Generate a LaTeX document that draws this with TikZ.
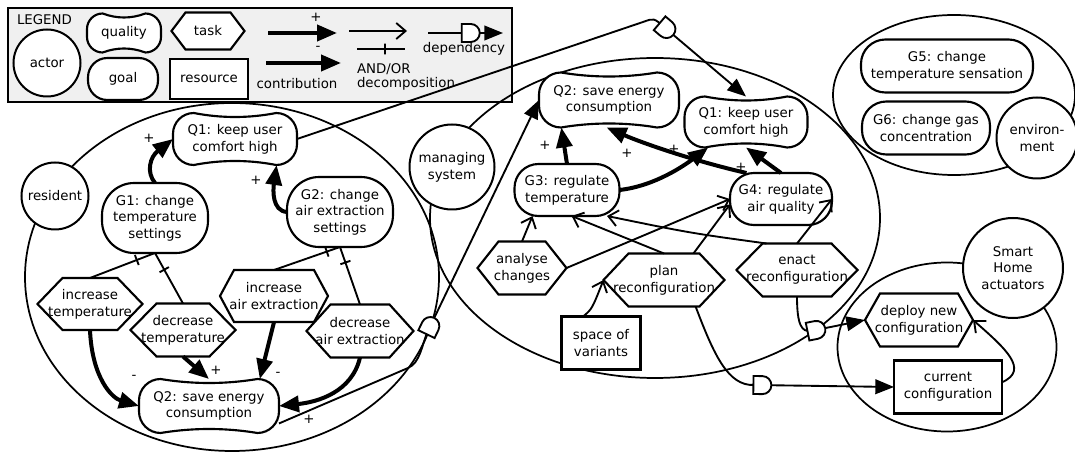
\documentclass[tikz,border=0pt]{standalone}
\usepackage{fontspec}
\setmainfont{DejaVu Sans}
\usetikzlibrary{arrows.meta,shapes.geometric,shapes.misc,positioning}
\newcommand{\pxunit}{0.75pt}

\makeatletter
\pgfkeys{/pgf/hexa tip/.initial=10pt}
% task: flat hexagon in the node box
\pgfdeclareshape{hexatask}{%
  \inheritsavedanchors[from=rectangle]%
  \inheritanchorborder[from=rectangle]%
  \inheritanchor[from=rectangle]{center}%
  \inheritanchor[from=rectangle]{north}%
  \inheritanchor[from=rectangle]{south}%
  \inheritanchor[from=rectangle]{east}%
  \inheritanchor[from=rectangle]{west}%
  \inheritanchor[from=rectangle]{north east}%
  \inheritanchor[from=rectangle]{north west}%
  \inheritanchor[from=rectangle]{south east}%
  \inheritanchor[from=rectangle]{south west}%
  \backgroundpath{%
    \southwest \edef\hxa{\the\pgf@x}\edef\hya{\the\pgf@y}%
    \northeast \edef\hxb{\the\pgf@x}\edef\hyb{\the\pgf@y}%
    \pgfmathsetmacro\hxc{\pgfkeysvalueof{/pgf/hexa tip}}\edef\hxc{\hxc pt}%
    \pgfmathsetmacro\hym{(\hya+\hyb)/2}\edef\hym{\hym pt}%
    \pgfpathmoveto{\pgfpoint{\hxa}{\hym}}%
    \pgfpathlineto{\pgfpoint{\hxa+\hxc}{\hyb}}%
    \pgfpathlineto{\pgfpoint{\hxb-\hxc}{\hyb}}%
    \pgfpathlineto{\pgfpoint{\hxb}{\hym}}%
    \pgfpathlineto{\pgfpoint{\hxb-\hxc}{\hya}}%
    \pgfpathlineto{\pgfpoint{\hxa+\hxc}{\hya}}%
    \pgfpathclose
  }%
}
% quality: box with hollow top and bottom
\pgfdeclareshape{softgoal}{%
  \inheritsavedanchors[from=rectangle]%
  \inheritanchorborder[from=rectangle]%
  \inheritanchor[from=rectangle]{center}%
  \inheritanchor[from=rectangle]{north}%
  \inheritanchor[from=rectangle]{south}%
  \inheritanchor[from=rectangle]{east}%
  \inheritanchor[from=rectangle]{west}%
  \inheritanchor[from=rectangle]{north east}%
  \inheritanchor[from=rectangle]{north west}%
  \inheritanchor[from=rectangle]{south east}%
  \inheritanchor[from=rectangle]{south west}%
  \backgroundpath{%
    \southwest \edef\qxa{\the\pgf@x}\edef\qya{\the\pgf@y}%
    \northeast \edef\qxb{\the\pgf@x}\edef\qyb{\the\pgf@y}%
    \pgfmathsetmacro\qr{0.4*(\qyb-\qya)}\edef\qr{\qr pt}%
    \pgfmathsetmacro\qk{0.552*\qr}\edef\qk{\qk pt}%
    \pgfmathsetmacro\ql{(\qxb-\qxa-2*\qr)/3}\edef\ql{\ql pt}%
    \def\qd{4pt}%
    \pgfpathmoveto{\pgfpoint{\qxa+\qr}{\qyb}}%
    \pgfpathcurveto{\pgfpoint{\qxa+\qr+\ql}{\qyb-\qd}}{\pgfpoint{\qxb-\qr-\ql}{\qyb-\qd}}{\pgfpoint{\qxb-\qr}{\qyb}}%
    \pgfpathcurveto{\pgfpoint{\qxb-\qr+\qk}{\qyb}}{\pgfpoint{\qxb}{\qyb-\qr+\qk}}{\pgfpoint{\qxb}{\qyb-\qr}}%
    \pgfpathlineto{\pgfpoint{\qxb}{\qya+\qr}}%
    \pgfpathcurveto{\pgfpoint{\qxb}{\qya+\qr-\qk}}{\pgfpoint{\qxb-\qr+\qk}{\qya}}{\pgfpoint{\qxb-\qr}{\qya}}%
    \pgfpathcurveto{\pgfpoint{\qxb-\qr-\ql}{\qya+\qd}}{\pgfpoint{\qxa+\qr+\ql}{\qya+\qd}}{\pgfpoint{\qxa+\qr}{\qya}}%
    \pgfpathcurveto{\pgfpoint{\qxa+\qr-\qk}{\qya}}{\pgfpoint{\qxa}{\qya+\qr-\qk}}{\pgfpoint{\qxa}{\qya+\qr}}%
    \pgfpathlineto{\pgfpoint{\qxa}{\qyb-\qr}}%
    \pgfpathcurveto{\pgfpoint{\qxa}{\qyb-\qr+\qk}}{\pgfpoint{\qxa+\qr-\qk}{\qyb}}{\pgfpoint{\qxa+\qr}{\qyb}}%
    \pgfpathclose
  }%
}
\makeatother

\tikzset{
    basesty/.style={font=\fontsize{10}{12.5}\selectfont, align=center, inner sep=0pt, outer sep=0pt},
    lblsty/.style={basesty},
    legsty/.style={draw, fill=gray!12, rectangle, line width=1.5pt, minimum width=504*\pxunit, minimum height=94*\pxunit, inner sep=0pt},
    bndsty/.style 2 args={draw, ellipse, line width=1.3pt, minimum width=#1*\pxunit, minimum height=#2*\pxunit, inner sep=0pt},
    actsty/.style={basesty, draw, fill=white, circle, line width=1.5pt, minimum size=#1*\pxunit},
    qualsty/.style 2 args={basesty, draw, fill=white, shape=softgoal, line width=1.6pt, minimum width=#1*\pxunit, minimum height=#2*\pxunit},
    goalsty/.style 2 args={basesty, draw, fill=white, rectangle, rounded corners=#2*0.46*\pxunit, line width=1.6pt, minimum width=#1*\pxunit, minimum height=#2*\pxunit},
    tasksty/.style n args={3}{basesty, draw, fill=white, shape=hexatask, hexa tip=#3*\pxunit, line width=1.6pt, minimum width=#1*\pxunit, minimum height=#2*\pxunit},
    ressty/.style 2 args={basesty, draw, fill=white, rectangle, line width=2.2pt, minimum width=#1*\pxunit, minimum height=#2*\pxunit},
    contrsty/.style={line width=3pt, -{Triangle[length=15pt,width=12pt]}},
    decsty/.style={line width=1.4pt, -{Straight Barb[length=7pt,width=12pt]}},
    andsty/.style={line width=1.4pt},
    ticksty/.style={draw, sloped, line width=1.4pt, inner sep=0pt, minimum width=0pt, minimum height=8pt},
    depsty/.style={line width=1.4pt, -{Triangle[length=14pt,width=11pt]}},
    dsty/.style={draw, fill=white, rounded rectangle, rounded rectangle left arc=none, line width=1.4pt, inner sep=0pt, minimum width=18*\pxunit, minimum height=18*\pxunit, sloped, allow upside down},
}

\begin{document}
\begin{tikzpicture}[x=\pxunit, y=-\pxunit]
\useasboundingbox (0,0) rectangle (1075,452);

% legend
\node[legsty] (legbox) at (260,55) {};
\node[lblsty, anchor=west] (legtitle) at (17,20) {LEGEND};
\node[actsty=67] (lact) at (47,63) {actor};
\node[qualsty={74}{39}] (lqual) at (124,33) {quality};
\node[goalsty={70}{42}] (lgoal) at (123,79) {goal};
\node[tasksty={73}{37}{14}] (ltask) at (208,31) {task};
\node[ressty={78}{40}] (lres) at (209,79) {resource};
\coordinate (lca) at (268,33);
\coordinate (lcb) at (337,33);
\coordinate (lcc) at (266,63);
\coordinate (lcd) at (341,63);
\draw[contrsty] (lca) -- (lcb);
\draw[contrsty] (lcc) -- (lcd);
\node[lblsty] (lplus) at (316,17) {+};
\node[lblsty] (lminus) at (318,48) {-};
\node[lblsty] (lcontr) at (297,84) {contribution};
\coordinate (ldca) at (349,31);
\coordinate (ldcb) at (407,31);
\coordinate (ldta) at (357,49);
\coordinate (ldtb) at (405,49);
\draw[decsty] (ldca) -- (ldcb);
\draw[andsty] (ldta) -- node[ticksty, pos=0.58] (ltick) {} (ldtb);
\node[lblsty, anchor=west] (landor) at (357,69) {AND/OR};
\node[lblsty, anchor=west] (ldecomp) at (357,84) {decomposition};
\coordinate (ldpa) at (428,33);
\coordinate (ldpb) at (503,33);
\draw[depsty] (ldpa) -- node[dsty, pos=0.57] (ldmark) {} (ldpb);
\node[lblsty] (ldep) at (464,49) {dependency};

% actor boundaries
\node[bndsty={414}{348}] (rbnd) at (232,277) {};
\node[bndsty={450}{320}] (mbnd) at (655,218) {};
\node[bndsty={219}{169}] (sbnd) at (947,347) {};
\node[bndsty={242}{160}] (ebnd) at (954,95) {};

% actors
\node[actsty=67] (resident) at (55,196) {resident};
\node[actsty=85] (managing) at (452,167) {managing\\system};
\node[actsty=100] (smart) at (1013,268) {Smart\\Home\\actuators};
\node[actsty=81] (env) at (1037,138) {environ-\\ment};

% resident
\node[qualsty={124}{52}] (rq1) at (235,139) {Q1: keep user\\comfort high};
\node[goalsty={106}{70}] (rg1) at (155,218) {G1: change\\temperature\\settings};
\node[goalsty={106}{70}] (rg2) at (340,212) {G2: change\\air extraction\\settings};
\node[tasksty={105}{52}{25}] (rtinc) at (90,304) {increase\\temperature};
\node[tasksty={105}{53}{26}] (rtdec) at (183,330) {decrease\\temperature};
\node[tasksty={108}{52}{14}] (rainc) at (274,296) {increase\\air extraction};
\node[tasksty={107}{53}{24}] (radec) at (360,331) {decrease\\air extraction};
\node[qualsty={140}{54}] (rq2) at (209,406) {Q2: save energy\\consumption};

% managing system
\node[qualsty={140}{55}] (mq2) at (609,100) {Q2: save energy\\consumption};
\node[qualsty={123}{51}] (mq1) at (746,122) {Q1: keep user\\comfort high};
\node[goalsty={105}{52}] (mg3) at (567,190) {G3: regulate\\temperature};
\node[goalsty={102}{52}] (mg4) at (781,199) {G4: regulate\\air quality};
\node[tasksty={89}{53}{21}] (manal) at (522,268) {analyse\\changes};
\node[tasksty={121}{53}{25}] (mplan) at (664,280) {plan\\reconfiguration};
\node[tasksty={121}{53}{26}] (menact) at (797,270) {enact\\reconfiguration};
\node[ressty={79}{53}] (mspace) at (601,343) {space of\\variants};

% smart home actuators
\node[tasksty={108}{53}{15}] (sdeploy) at (919,320) {deploy new\\configuration};
\node[ressty={108}{53}] (scur) at (948,387) {current\\configuration};

% environment
\node[goalsty={172}{53}] (eg5) at (947,66) {G5: change\\temperature sensation};
\node[goalsty={128}{53}] (eg6) at (926,128) {G6: change gas\\concentration};

% resident links
\draw[contrsty] (rg1.north) .. controls (146,172) and (150,157) .. (rq1.west);
\draw[contrsty] (rg2.west) .. controls (272,211) and (273,190) .. (rq1.-32);
\draw[contrsty] (rtinc.south) .. controls (92,378) and (112,398) .. (rq2.west);
\draw[contrsty] (rtdec.south) -- (rq2.north);
\draw[contrsty] (rainc.south) -- (rq2.28);
\draw[contrsty] (radec.south) .. controls (352,392) and (318,402) .. (rq2.east);
\draw[andsty] (rtinc.north) -- node[ticksty, pos=0.72] (tk1) {} (rg1.south);
\draw[andsty] (rtdec.north) -- node[ticksty, pos=0.67] (tk2) {} (rg1.south);
\draw[andsty] (rainc.north) -- node[ticksty, pos=0.8] (tk3) {} (rg2.south);
\draw[andsty] (radec.north) -- node[ticksty, pos=0.73] (tk4) {} (rg2.south);
\node[lblsty] (lbl1) at (149,138) {+};
\node[lblsty] (lbl2) at (256,180) {+};
\node[lblsty] (lbl3) at (134,377) {-};
\node[lblsty] (lbl4) at (216,370) {+};
\node[lblsty] (lbl5) at (278,374) {-};
\node[lblsty] (lbl6) at (309,419) {+};

% managing system links
\draw[contrsty] (mg3.north) -- (mq2.-150);
\draw[contrsty] (mg3.east) .. controls (655,186) and (685,165) .. (mq1.-146);
\draw[contrsty] (mg4.143) .. controls (690,160) and (640,142) .. (mq2.-95);
\draw[contrsty] (mg4.north) -- (mq1.south);
\draw[decsty] (manal.north) -- (mg3.-143);
\draw[decsty] (manal.east) -- (mg4.west);
\draw[decsty] (mplan.north) -- (mg3.-80);
\draw[decsty] (mplan.42) -- (mg4.-174);
\draw[decsty] (menact.139) .. controls (690,233) .. (mg3.-33);
\draw[decsty] (menact.north) -- (mg4.east);
\draw[decsty] (mspace.124) .. controls (592,309) .. (mplan.west);
\node[lblsty] (lbl7) at (545,145) {+};
\node[lblsty] (lbl8) at (627,153) {+};
\node[lblsty] (lbl9) at (674,149) {+};
\node[lblsty] (lbl10) at (741,167) {+};

% smart home link
\draw[decsty] (scur.5) .. controls (1030,370) and (1005,348) .. (sdeploy.east);

% dependencies
\coordinate (dtop) at (664,27);
\draw[depsty] (rq1.east) -- (643,22) .. controls (654,18) .. (dtop) -- node[dsty, pos=0.03] (dmk1) {} (mq1.north);
\coordinate (dmid) at (427,333);
\draw[depsty] (rq2.-14) -- (408,368) .. controls (420,363) and (422,345) .. (dmid) -- node[dsty, pos=0.03] (dmk2) {} (mq2.west);
\coordinate (dlow) at (754,385);
\draw[depsty] (mplan.-40) .. controls (714,355) and (728,386) .. (dlow) -- node[dsty, pos=0.06] (dmk3) {} (scur.west);
\coordinate (dright) at (811,331);
\draw[depsty] (menact.south) .. controls (797,326) and (802,332) .. (dright) -- node[dsty, pos=0.1] (dmk4) {} (sdeploy.west);

\end{tikzpicture}
\end{document}
